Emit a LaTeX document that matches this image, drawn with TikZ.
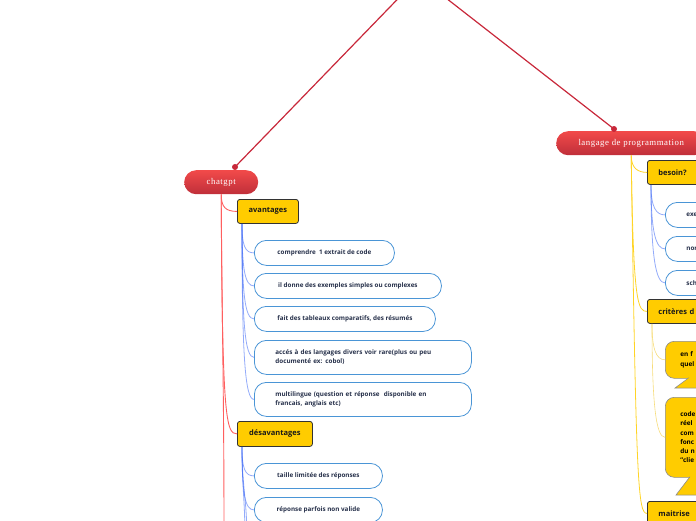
\documentclass[tikz,border=0pt]{standalone}
\usepackage{fontspec}
\setmainfont{Liberation Serif}
\setsansfont{Open Sans}
\usetikzlibrary{calc}
\definecolor{redline}{HTML}{C8283A}
\definecolor{redtop}{HTML}{F24A4A}
\definecolor{redbot}{HTML}{BF2F3A}
\definecolor{branchred}{HTML}{FF5F5F}
\definecolor{yel}{HTML}{FFCC00}
\definecolor{yelline}{HTML}{FFD426}
\definecolor{yellight}{HTML}{F6DC7A}
\definecolor{pillblue}{HTML}{4A95D6}
\definecolor{pilltext}{HTML}{26304A}
\definecolor{lineblue}{HTML}{3A66F5}
\begin{document}
\begin{tikzpicture}[x=1pt,y=-1pt,
  mainpill/.style={rounded corners=12pt, top color=redtop, bottom color=redbot, draw=none,
    text=white, font=\fontsize{8.8}{10}\selectfont\addfontfeature{LetterSpace=6}, minimum height=24pt, inner sep=0pt, anchor=north west},
  yelbox/.style={draw=black!80, fill=yel, rounded corners=2.5pt, line width=0.8pt,
    font=\sffamily\bfseries\fontsize{7.5}{9}\selectfont, text=black!90, minimum height=24pt, inner sep=0pt, anchor=north west},
  yelleft/.style={yelbox, align=left, inner xsep=11pt},
  pill/.style={draw=pillblue, fill=white, rounded corners=12pt, line width=0.8pt,
    font=\sffamily\bfseries\fontsize{6.3}{9}\selectfont, text=pilltext, minimum height=25pt, inner sep=0pt, anchor=north west},
  pilltwo/.style={pill, align=left, inner xsep=21pt, minimum height=34pt, text width=175pt},
  pillleft/.style={pill, align=left, inner xsep=21pt},
  callbody/.style={draw=black!45, fill=yel, rounded corners=9pt, line width=0.6pt, inner sep=0pt, anchor=north west,
    font=\sffamily\bfseries\fontsize{6.4}{9.2}\selectfont, text=black, align=left, inner xsep=15pt},
  topline/.style={redline, line width=1.2pt},
  branch/.style={branchred, line width=0.9pt},
  bline/.style={lineblue, line width=0.8pt, opacity=0.55},
  yline/.style={yelline, line width=0.8pt},
  ylight/.style={yellight, line width=0.6pt}
]
\useasboundingbox (0,0) rectangle (696,520);
\clip (0,0) rectangle (696,520);

% root connectors
\coordinate (root) at (419,-23);
\coordinate (cdot) at (235,167);
\coordinate (ldot) at (614,129);

\node[mainpill, minimum width=74pt] (chatgpt) at (184,170) {chatgpt};
\node[mainpill, minimum width=150pt] (langage) at (556,131) {langage de programmation};
\coordinate (chatend) at (224,540);

% nodes left
\node[yelbox, minimum width=61pt] (avant) at (237,199) {avantages};
\node[pill, minimum width=140pt] (a1) at (254,240) {comprendre\ \ 1 extrait de code};
\node[pill, minimum width=187pt] (a2) at (254,273) {il donne des exemples simples ou complexes};
\node[pill, minimum width=181pt] (a3) at (254,306) {fait des tableaux comparatifs, des résumés};
\node[pilltwo] (a4) at (254,340) {accés à des langages divers voir rare(plus ou peu\\documenté ex: cobol)};
\node[pilltwo] (a5) at (254,382) {multilingue (question et réponse\ \ disponible en\\francais, anglais etc)};
\node[yelbox, minimum width=75pt, minimum height=25pt] (desav) at (237,421) {désavantages};
\node[pill, minimum width=128pt] (d1) at (254,463) {taille limitée des réponses};
\node[pill, minimum width=128pt] (d2) at (254,497) {réponse parfois non valide};

% nodes right
\node[yelleft, text width=48pt] (besoin) at (647,160) {besoin?};
\node[pillleft, text width=40pt] (b1) at (665,202) {exe};
\node[pillleft, text width=40pt] (b2) at (665,236) {nor};
\node[pillleft, text width=40pt] (b3) at (665,270) {sch};
\node[yelleft, text width=48pt] (crit) at (647,299) {critères d};
\node[yelleft, text width=48pt] (maitrise) at (647,501) {maitrise};

% callouts
\node[callbody, minimum width=60pt, minimum height=37pt, text width=30pt] (call1) at (665,341) {en f\\quel};
\filldraw[fill=yel, draw=black!45, line width=0.6pt] (689,377.7) -- (675,388) -- (725,388);
\fill[yel] (690.5,377) -- (677.5,387.4) -- (725,387.4) -- (725,377) -- cycle;
\node[callbody, minimum width=60pt, minimum height=80pt, text width=30pt] (call2) at (665,397) {code\\réel\\com\\fonc\\du n\\"clie};
\filldraw[fill=yel, draw=black!45, line width=0.6pt] (690,476.7) -- (676,495) -- (725,495);
\fill[yel] (691.5,476) -- (678,494.4) -- (725,494.4) -- (725,476) -- cycle;

% connectors
\draw[topline] (root) -- (cdot);
\draw[topline] (root) -- (ldot);
\fill[redline] (cdot) circle (3pt);
\fill[redline] (ldot) circle (3pt);

\draw[branch] (chatgpt.south) .. controls ($(chatgpt.south)+(0,13)$) and ($(avant.west)+(-11,0)$) .. (avant.west);
\draw[branch] (chatgpt.south) .. controls ($(chatgpt.south)+(1,225)$) and ($(desav.west)+(-11,0)$) .. (desav.west);
\draw[branch] (chatgpt.south) .. controls ($(chatgpt.south)+(1,150)$) and ($(chatend)+(0,-150)$) .. (chatend);

\coordinate (as) at ($(avant.south west)+(5,0)$);
\foreach \c in {a1,a2,a3,a4,a5}{
  \draw[bline] (as) .. controls ($(as)!0.75!(as |- \c.west)$) and ($(\c.west)+(-9,0)$) .. (\c.west);
}
\coordinate (ds) at ($(desav.south west)+(5,0)$);
\coordinate (dend1) at (245,540);
\coordinate (dend2) at (247,540);
\foreach \c in {d1,d2}{
  \draw[bline] (ds) .. controls ($(ds)!0.75!(ds |- \c.west)$) and ($(\c.west)+(-9,0)$) .. (\c.west);
}
\draw[bline] (ds) .. controls ($(ds)+(0,40)$) and ($(dend1)+(0,-40)$) .. (dend1);
\draw[bline] (ds) .. controls ($(ds)+(0,40)$) and ($(dend2)+(0,-40)$) .. (dend2);

\draw[yline] (langage.south) .. controls ($(langage.south)+(0,13)$) and ($(besoin.west)+(-9,0)$) .. (besoin.west);
\draw[yline] (langage.south) .. controls ($(langage.south)+(2,150)$) and ($(crit.west)+(-9,0)$) .. (crit.west);
\draw[yline] (langage.south) .. controls ($(langage.south)+(5,330)$) and ($(maitrise.west)+(-9,0)$) .. (maitrise.west);

\coordinate (bs) at ($(besoin.south west)+(4,0)$);
\foreach \c in {b1,b2,b3}{
  \draw[bline] (bs) .. controls ($(bs)!0.75!(bs |- \c.west)$) and ($(\c.west)+(-9,0)$) .. (\c.west);
}
\coordinate (cs) at ($(crit.south west)+(5,0)$);
\draw[ylight] (cs) .. controls ($(cs)+(0,25)$) and ($(call1.west)+(-9,0)$) .. (call1.west);
\draw[ylight] (cs) .. controls ($(cs)+(0,80)$) and ($(call2.west)+(-9,0)$) .. (call2.west);
\end{tikzpicture}
\end{document}
